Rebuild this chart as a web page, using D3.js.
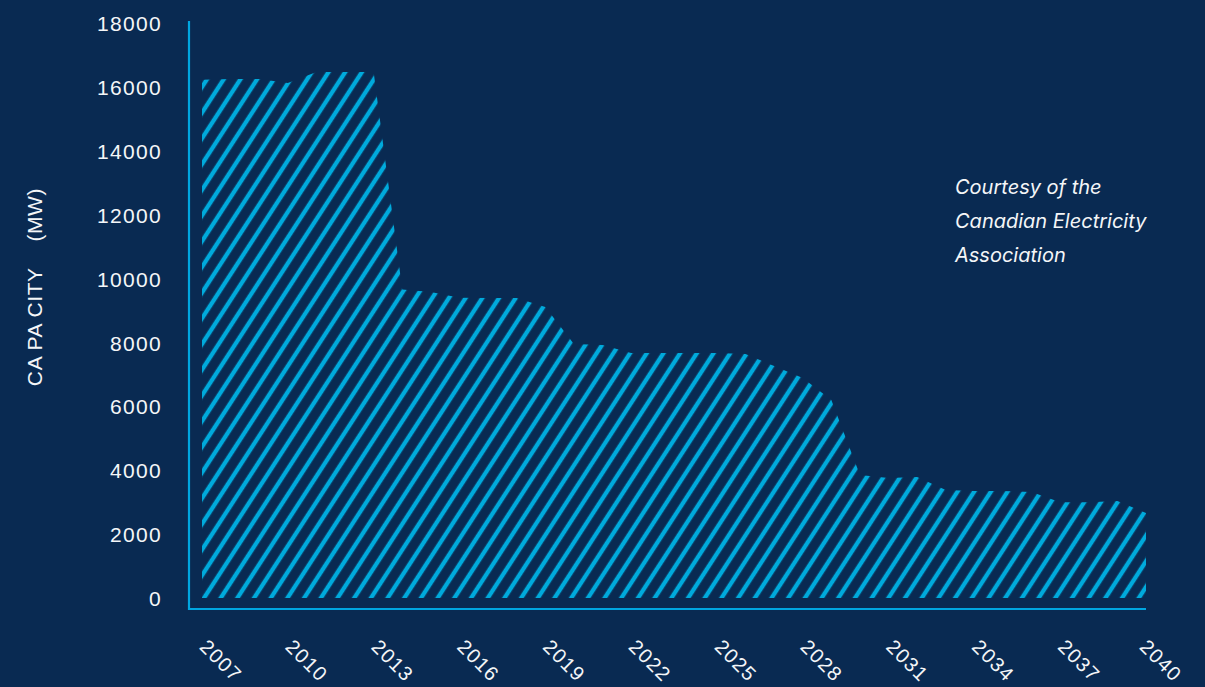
<!DOCTYPE html>
<html>
<head>
<meta charset="utf-8">
<script src="https://cdn.jsdelivr.net/npm/d3@7"></script>
<style>
  html, body { margin: 0; padding: 0; background: #092a52; }
  svg { display: block; }
</style>
</head>
<body>
<svg id="chart" width="1205" height="687"></svg>
<script>
// ---- data ----
const years = [2007, 2008, 2009, 2010, 2011, 2012, 2013, 2014, 2015, 2016, 2017, 2018,
  2019, 2020, 2021, 2022, 2023, 2024, 2025, 2026, 2027, 2028, 2029, 2030, 2031, 2032,
  2033, 2034, 2035, 2036, 2037, 2038, 2039, 2040];
const capacity = [16220, 16250, 16250, 16120, 16470, 16470, 16470, 9660, 9580, 9400, 9390, 9390,
  9110, 7950, 7920, 7670, 7670, 7670, 7670, 7640, 7260, 6890, 6200, 3850, 3760, 3790,
  3380, 3350, 3350, 3320, 3000, 3000, 3040, 2660];
const xTickYears = [2007, 2010, 2013, 2016, 2019, 2022, 2025, 2028, 2031, 2034, 2037, 2040];
const yTickValues = [0, 2000, 4000, 6000, 8000, 10000, 12000, 14000, 16000, 18000];
const yTitle = "CA PA CITY\u00a0\u00a0\u00a0\u00a0(MW)";
const noteLines = ["Courtesy of the", "Canadian Electricity", "Association"];

// ---- style ----
const BG = "#092a52", HATCH = "#00aadc", AXIS = "#00a6e0", TEXT = "#f4f6f8";

const svg = d3.select("#chart");
svg.append("rect").attr("width", 1205).attr("height", 687).attr("fill", BG);

const x = d3.scaleLinear().domain([2007, 2040]).range([202, 1146]);
const y = d3.scaleLinear().domain([0, 18000]).range([598, 23]);

// hatch pattern
const defs = svg.append("defs");
const p = 14;
const pat = defs.append("pattern")
  .attr("id", "hatch")
  .attr("patternUnits", "userSpaceOnUse")
  .attr("width", p).attr("height", p)
  .attr("patternTransform", "translate(204,598) rotate(33)");
pat.append("rect").attr("width", p).attr("height", p).attr("fill", BG);
pat.append("line").attr("x1", 0).attr("x2", 0).attr("y1", -1).attr("y2", p + 1)
  .attr("stroke", HATCH).attr("stroke-width", 4.4);
pat.append("line").attr("x1", p).attr("x2", p).attr("y1", -1).attr("y2", p + 1)
  .attr("stroke", HATCH).attr("stroke-width", 4.4);

const data = years.map((yr, i) => ({ yr, v: capacity[i] }));
const area = d3.area()
  .x(d => x(d.yr))
  .y0(y(0))
  .y1(d => y(d.v))
  .curve(d3.curveLinear);
svg.append("path").datum(data).attr("d", area).attr("fill", "url(#hatch)");

// axis lines
const axisX = x.range()[0] - 13;
const axisBottom = y(0) + 11;
svg.append("line").attr("x1", axisX).attr("x2", axisX)
  .attr("y1", y(18000) - 2).attr("y2", axisBottom + 1)
  .attr("stroke", AXIS).attr("stroke-width", 2.2);
svg.append("line").attr("x1", axisX).attr("x2", x.range()[1])
  .attr("y1", axisBottom).attr("y2", axisBottom)
  .attr("stroke", AXIS).attr("stroke-width", 2.2);

// y axis labels
const yAxis = svg.append("g").attr("transform", `translate(${axisX},0)`)
  .call(d3.axisLeft(y).tickValues(yTickValues).tickSize(0).tickPadding(27).tickFormat(d3.format("d")));
yAxis.select(".domain").remove();
yAxis.selectAll("text")
  .attr("fill", TEXT)
  .style("font-family", "'Liberation Sans', Arial, sans-serif")
  .style("font-size", "21px")
  .style("letter-spacing", "1.3px")
  .attr("dy", "0.36em");

// x axis labels
const xAxis = svg.append("g").attr("transform", `translate(0,${y(0)})`)
  .call(d3.axisBottom(x).tickValues(xTickYears).tickSize(0).tickFormat(d3.format("d")));
xAxis.select(".domain").remove();
xAxis.selectAll("text")
  .attr("x", 0).attr("y", 0).attr("dy", 0)
  .attr("text-anchor", "start")
  .attr("transform", d => `translate(${d === 2040 ? -8 : -4},50) rotate(45)`)
  .attr("fill", TEXT)
  .style("font-family", "'Liberation Sans', Arial, sans-serif")
  .style("font-size", "20px")
  .style("letter-spacing", "1.3px");

// y title
svg.append("text")
  .attr("transform", "translate(42,287) rotate(-90)")
  .attr("text-anchor", "middle")
  .attr("fill", TEXT)
  .style("font-family", "'Liberation Sans', Arial, sans-serif")
  .style("font-size", "21px")
  .style("letter-spacing", "0.6px")
  .text(yTitle);

// note
svg.append("g").selectAll("text").data(noteLines).join("text")
  .attr("x", 955)
  .attr("y", (d, i) => 194 + i * 34)
  .attr("fill", TEXT)
  .style("font-family", "Inter, 'Open Sans', sans-serif")
  .style("font-style", "italic")
  .style("font-size", "20px")
  .text(d => d);
</script>
</body>
</html>
